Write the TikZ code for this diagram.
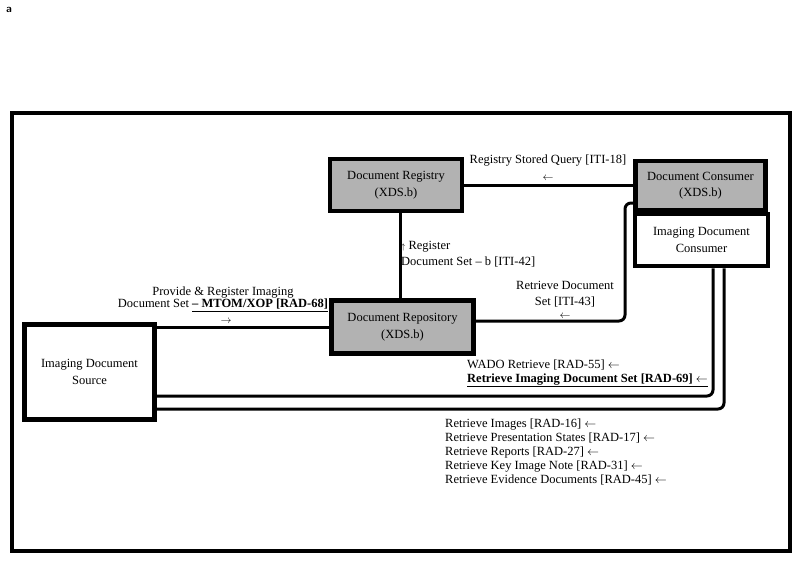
\documentclass[tikz,border=0pt]{standalone}
\usepackage{fontspec}
\setmainfont{Liberation Serif}
\usetikzlibrary{positioning,calc}

\begin{document}
\begin{tikzpicture}[x=1pt, y=-1pt,
    xdsbox/.style={draw, line width=4.5pt, fill=black!30, align=center, inner sep=0pt,
      font=\fontsize{12.5}{16.5}\selectfont},
    actbox/.style={draw, line width=4.5pt, fill=white, align=center, inner sep=0pt,
      font=\fontsize{12.5}{16.5}\selectfont},
    conn/.style={line width=3pt},
    lbl/.style={inner sep=1pt, font=\fontsize{12.5}{16}\selectfont},
    arr/.style={inner sep=0pt, font=\fontsize{11}{11}\selectfont}]
    \useasboundingbox (0,0) rectangle (800,563);

    % panel tag and frame
    \node[font=\sffamily\bfseries\fontsize{11}{12}\selectfont] (tag) at (9,10) {a};
    \draw[line width=3.5pt] (12,113) rectangle (790,551);

    % actors
    \node[xdsbox, minimum width=132, minimum height=52] (reg) at (396,185) {Document Registry\\(XDS.b)};
    \node[xdsbox, minimum width=130, minimum height=49] (cons) at (700.5,185.5) {Document Consumer\\(XDS.b)};
    \node[actbox, minimum width=133, minimum height=52] (icons) at (701.5,240) {Imaging Document\\Consumer};
    \node[xdsbox, minimum width=142, minimum height=53] (repo) at (402.5,327) {Document Repository\\(XDS.b)};
    \node[actbox, minimum width=130, minimum height=95] (src) at (89.5,372) {Imaging Document\\Source};

    % registry stored query
    \draw[conn] (reg.east) -- (reg.east -| cons.west);
    \node[lbl] (qlbl) at (548,161) {Registry Stored Query [ITI-18]};
    \node[arr] (qarr) at (548,178) {$\leftarrow$};

    % register document set
    \draw[conn] ([xshift=4pt]reg.south) -- ([xshift=4pt]reg.south |- repo.north);
    \node[lbl, anchor=west, align=left] (rlbl) at (400,254) {{\footnotesize$\uparrow$} Register\\Document Set -- b [ITI-42]};

    % retrieve document set
    \coordinate (rbend) at (625,203);
    \draw[conn, rounded corners=6pt] ([yshift=6pt]repo.east) -| (rbend) -- (rbend -| cons.west);
    \node[lbl, align=center] (dlbl) at (565,294) {Retrieve Document\\Set [ITI-43]};
    \node[arr] (darr) at (565,316) {$\leftarrow$};

    % provide and register
    \draw[conn] (repo.west) -- (repo.west -| src.east);
    \node[lbl, align=center, font=\fontsize{12.5}{12.5}\selectfont] (plbl) at (223,299)
      {Provide \& Register Imaging\\Document Set \underline{\textbf{-- MTOM/XOP [RAD-68]}}};
    \node[arr] (parr) at (226,321) {$\rightarrow$};

    % imaging retrieve
    \draw[conn, rounded corners=6pt] ([yshift=-24pt]src.east) -| ([xshift=11.5pt]icons.south);
    \draw[conn, rounded corners=6pt] ([yshift=-37pt]src.east) -| ([xshift=22.5pt]icons.south);
    \node[lbl, anchor=west, align=left, font=\fontsize{12.5}{13.5}\selectfont] (wlbl) at (466,373.5)
      {WADO Retrieve [RAD-55] $\leftarrow$\\\underline{\textbf{Retrieve Imaging Document Set [RAD-69]} $\leftarrow$}};
    \node[lbl, anchor=north west, align=left, font=\fontsize{12.5}{14}\selectfont] (llbl) at (444,418)
      {Retrieve Images [RAD-16] $\leftarrow$\\
       Retrieve Presentation States [RAD-17] $\leftarrow$\\
       Retrieve Reports [RAD-27] $\leftarrow$\\
       Retrieve Key Image Note [RAD-31] $\leftarrow$\\
       Retrieve Evidence Documents [RAD-45] $\leftarrow$};
\end{tikzpicture}
\end{document}
